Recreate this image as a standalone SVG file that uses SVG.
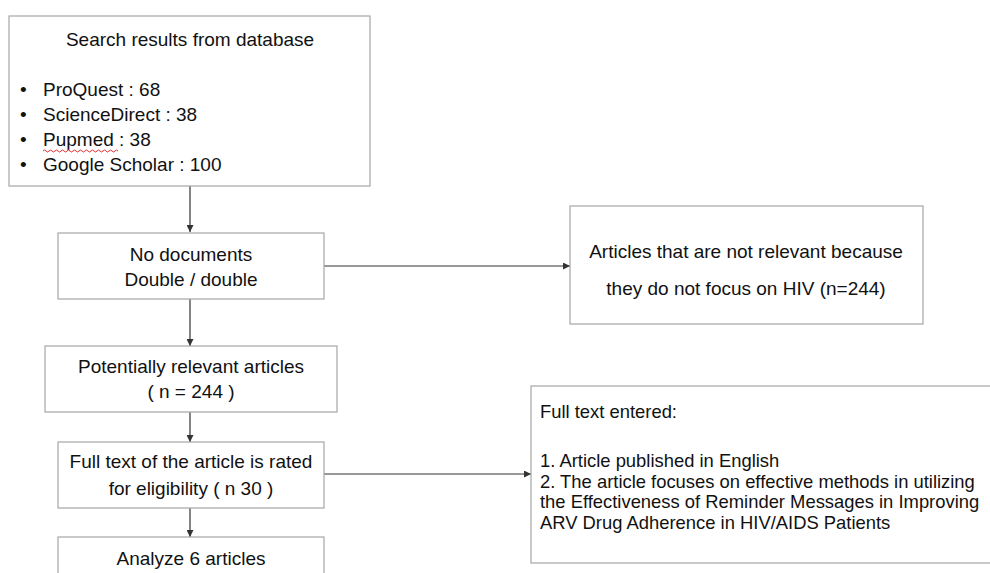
<svg xmlns="http://www.w3.org/2000/svg" width="990" height="573" viewBox="0 0 990 573">
<style>
.box{fill:#fff;stroke:#a6a6a6;stroke-width:1.2}
.t{font-family:"Liberation Sans",Arial,sans-serif;font-size:19px;fill:#111}
.s{font-size:18.4px}
.c{text-anchor:middle}
.conn{stroke:#333;stroke-width:1.2;fill:none;marker-end:url(#ah)}
</style>
<defs>
<marker id="ah" viewBox="0 0 10 10" refX="10" refY="5" markerWidth="7" markerHeight="7" markerUnits="userSpaceOnUse" orient="auto">
<path d="M0,0 L10,5 L0,10 z" fill="#333"/>
</marker>
</defs>
<rect width="990" height="573" fill="#fff"/>
<g id="connectors">
<line class="conn" x1="190" y1="186" x2="190" y2="232"/>
<line class="conn" x1="324" y1="266" x2="570" y2="266"/>
<line class="conn" x1="190" y1="299" x2="190" y2="346"/>
<line class="conn" x1="190" y1="412" x2="190" y2="442"/>
<line class="conn" x1="324" y1="474" x2="531" y2="474"/>
<line class="conn" x1="190" y1="508" x2="190" y2="537"/>
</g>
<g id="search">
<rect class="box" x="9" y="16" width="361" height="170"/>
<text class="t c" x="190" y="46">Search results from database</text>
<g class="t">
<text x="20" y="96">•</text><text x="43" y="96">ProQuest : 68</text>
<text x="20" y="121">•</text><text x="43" y="121">ScienceDirect : 38</text>
<text x="20" y="146">•</text><text x="43" y="146">Pupmed : 38</text>
<text x="20" y="171">•</text><text x="43" y="171">Google Scholar : 100</text>
</g>
<path d="M43,151 q1.5,-2 3,0 t3,0 t3,0 t3,0 t3,0 t3,0 t3,0 t3,0 t3,0 t3,0 t3,0 t3,0 t3,0 t3,0 t3,0 t3,0 t3,0 t3,0 t3,0 t3,0 t3,0 t3,0 t3,0 t3,0 t3,0" fill="none" stroke="#e03030" stroke-width="1"/>
</g>
<g id="nodoc">
<rect class="box" x="58" y="233" width="266" height="66"/>
<text class="t c" x="191" y="261">No documents</text>
<text class="t c" x="191" y="286">Double / double</text>
</g>
<g id="notrelevant">
<rect class="box" x="570" y="206" width="353" height="118"/>
<text class="t c" x="746" y="258">Articles that are not relevant because</text>
<text class="t c" x="746" y="295">they do not focus on HIV (n=244)</text>
</g>
<g id="potential">
<rect class="box" x="45" y="346" width="292" height="66"/>
<text class="t c" x="191" y="373">Potentially relevant articles</text>
<text class="t c" x="191" y="398">( n = 244 )</text>
</g>
<g id="fulltext">
<rect class="box" x="58" y="442" width="266" height="66"/>
<text class="t c" x="191" y="468">Full text of the article is rated</text>
<text class="t c" x="191" y="495">for eligibility ( n 30 )</text>
</g>
<g id="criteria">
<rect class="box" x="531" y="386" width="480" height="177"/>
<g class="t s">
<text x="540" y="418">Full text entered:</text>
<text x="540" y="467">1. Article published in English</text>
<text x="540" y="488">2. The article focuses on effective methods in utilizing</text>
<text x="540" y="508">the Effectiveness of Reminder Messages in Improving</text>
<text x="540" y="529">ARV Drug Adherence in HIV/AIDS Patients</text>
</g>
</g>
<g id="analyze">
<rect class="box" x="58" y="537" width="266" height="60"/>
<text class="t c" x="191" y="565">Analyze 6 articles</text>
</g>
</svg>
